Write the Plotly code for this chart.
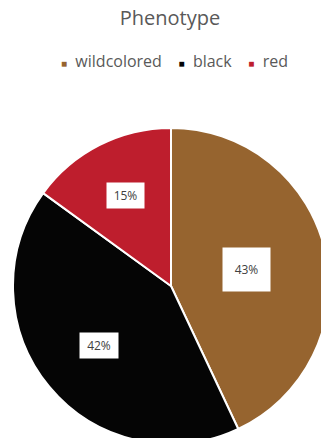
import math
import plotly.graph_objects as go

# Phenotype shares (percent)
categories = ["wildcolored", "black", "red"]
shares = [43, 42, 15]
colors = ["#96642F", "#050505", "#BE1E2D"]

# canvas and pie geometry (pixels)
W, H = 340, 450
cx, cy, R = 171, 286, 158
label_r = [0.49, 0.59, 0.64]          # radial placement of each data label
label_box = [(47, 43), (38, 25), (37, 25)]  # label box width/height

TEXT = "#595959"
FONT = "Open Sans"

fig = go.Figure(go.Pie(
    labels=categories,
    values=shares,
    marker=dict(colors=colors, line=dict(color="white", width=2)),
    sort=False,
    direction="clockwise",
    rotation=0,
    textinfo="none",
    hoverinfo="label+percent",
    showlegend=False,
    domain=dict(x=[(cx - R) / W, (cx + R) / W],
                y=[(H - (cy + R)) / H, (H - (cy - R)) / H]),
))

annotations = []
total = sum(shares)
cum = 0.0
for v, rf, (bw, bh) in zip(shares, label_r, label_box):
    mid = (cum + v / 2) / total * 2 * math.pi
    cum += v
    px = cx + rf * R * math.sin(mid)
    py = cy - rf * R * math.cos(mid)
    annotations.append(dict(
        x=px / W, y=1 - py / H, xref="paper", yref="paper",
        text=f"{round(v / total * 100)}%", showarrow=False,
        font=dict(family=FONT, size=12, color="#404040"),
        bgcolor="white", width=bw, height=bh, borderpad=0,
        xanchor="center", yanchor="middle",
    ))

# legend row: small colored squares followed by the category names
legend_text = "&nbsp;&nbsp;&nbsp;&nbsp;".join(
    f"<span style='color:{c};font-size:10px'>■</span>&nbsp; {n}"
    for n, c in zip(categories, colors)
)
annotations.append(dict(
    x=175 / W, y=1 - 61 / H, xref="paper", yref="paper",
    text=legend_text, showarrow=False,
    font=dict(family=FONT, size=16, color=TEXT),
    xanchor="center", yanchor="middle",
))

fig.update_layout(
    width=W, height=H,
    margin=dict(l=0, r=0, t=0, b=0),
    paper_bgcolor="white",
    plot_bgcolor="white",
    title=dict(text="Phenotype", x=170 / W, y=1 - 18 / H,
               xanchor="center", yanchor="middle",
               font=dict(family=FONT, size=20, color=TEXT)),
    annotations=annotations,
)

fig.write_html(
    "out.html",
    post_script="document.documentElement.style.overflow='hidden';"
                "document.body.style.overflow='hidden';"
                "document.body.style.margin='0';",
)
